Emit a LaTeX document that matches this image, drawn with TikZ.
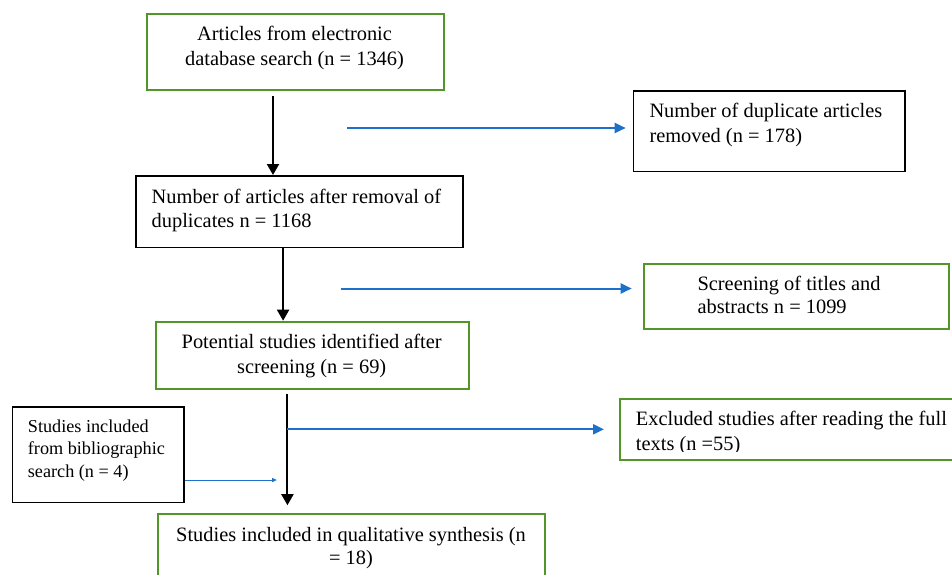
\documentclass[tikz,border=0pt]{standalone}
\usepackage{fontspec}
\setmainfont{Liberation Serif}
\usetikzlibrary{arrows.meta}
\definecolor{boxgreen}{RGB}{82,150,40}
\definecolor{arrblue}{RGB}{30,112,200}
\begin{document}
\begin{tikzpicture}[x=1pt,y=-1pt,
  gbox/.style={draw=boxgreen, line width=2pt, rectangle, inner sep=0pt, anchor=north west},
  kbox/.style={draw=black, line width=1.6pt, rectangle, inner sep=0pt, anchor=north west},
  txt/.style={inner sep=0pt, font=\fontsize{20.4}{24.5}\selectfont},
  stxt/.style={inner sep=0pt, font=\fontsize{18.2}{22.5}\selectfont},
  karr/.style={line width=2pt, -{Triangle[length=11pt,width=12pt]}},
  barr/.style={draw=arrblue, line width=2pt, -{Triangle[length=11pt,width=10pt]}},
  tarr/.style={draw=arrblue, line width=0.8pt, -{Triangle[length=4.5pt,width=4pt]}},
]
\useasboundingbox (0,0) rectangle (952,574);
\begin{scope}
\clip (0,0) rectangle (952,574);

% boxes
\node[gbox, minimum width=297pt, minimum height=76pt] (b1) at (146,13.3) {};
\node[kbox, minimum width=271.6pt, minimum height=80.7pt] (dup) at (632.7,90) {};
\node[kbox, minimum width=327pt, minimum height=71.7pt] (b2) at (135,175) {};
\node[gbox, minimum width=305pt, minimum height=65.6pt] (scr) at (643.3,262.7) {};
\node[gbox, minimum width=313.3pt, minimum height=67.6pt] (b3) at (155,320.7) {};
\node[gbox, minimum width=345pt, minimum height=60.7pt] (exc) at (619,398.3) {};
\node[kbox, minimum width=171.6pt, minimum height=95.7pt] (lft) at (11.7,406) {};
\node[gbox, minimum width=386.7pt, minimum height=80pt] (b4) at (157.3,512.7) {};

% texts
\node[txt, anchor=base] (t1a) at (294.5,40.7) {Articles from electronic};
\node[txt, anchor=base] (t1b) at (294.5,65.7) {database search (n = 1346)};
\node[txt, anchor=base west] (tda) at (649.3,117.3) {Number of duplicate articles};
\node[txt, anchor=base west] (tdb) at (649.3,142.7) {removed (n = 178)};
\node[txt, anchor=base west] (t2a) at (151.5,203.3) {Number of articles after removal of};
\node[txt, anchor=base west] (t2b) at (151.5,227.7) {duplicates n = 1168};
\node[txt, anchor=base west] (tsa) at (697.3,290.7) {Screening of titles and};
\node[txt, anchor=base west] (tsb) at (697.3,313.3) {abstracts n = 1099};
\node[txt, anchor=base] (t3a) at (311.7,348.3) {Potential studies identified after};
\node[txt, anchor=base] (t3b) at (311.7,373.3) {screening (n = 69)};
\node[txt, anchor=base west] (tea) at (635.7,425) {Excluded studies after reading the full};
\begin{scope}
\clip (600,430) rectangle (952,451.5);
\node[txt, anchor=base west] (teb) at (635.7,450) {texts (n =55)};
\end{scope}
\node[stxt, anchor=base west] (tla) at (27.7,432.3) {Studies included};
\node[stxt, anchor=base west] (tlb) at (27.7,454.8) {from bibliographic};
\node[stxt, anchor=base west] (tlc) at (27.7,477.3) {search (n = 4)};
\node[txt, anchor=base] (t4a) at (351,541.7) {Studies included in qualitative synthesis (n};
\node[txt, anchor=base] (t4b) at (351,564) {= 18)};

% black arrows
\draw[karr] ([xshift=-22.5pt,yshift=-5pt]b1.south) -- ([xshift=-22.5pt]b1.south |- b2.north);
\draw[karr] ([xshift=-16.2pt]b2.south) -- ([xshift=-16.2pt]b2.south |- b3.north);
\draw[karr, shorten >=7.5pt] ([xshift=-25.2pt,yshift=-4pt]b3.south) -- ([xshift=-25.2pt]b3.south |- b4.north);

% blue arrows
\coordinate (s1) at (347,128);
\coordinate (s2) at (341,288.5);
\coordinate (j) at (286.5,429.3);
\coordinate (m) at (276.7,480);
\draw[barr, shorten >=7pt] (s1) -- (s1 -| dup.west);
\draw[barr, shorten >=11.6pt] (s2) -- (s2 -| scr.west);
\draw[barr, shorten >=15pt] (j) -- (j -| exc.west);
\draw[tarr] (lft.east |- m) -- (m);
\end{scope}
\end{tikzpicture}
\end{document}
